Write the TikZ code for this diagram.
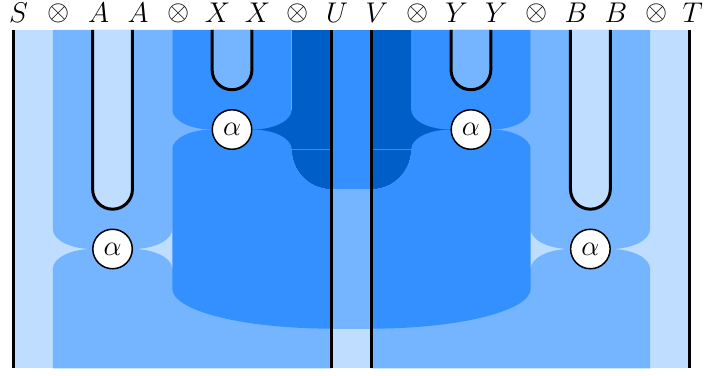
\RequirePackage{fix-cm}
\documentclass[tikz,border=0pt]{standalone}
\definecolor{cA}{RGB}{191,222,255}
\definecolor{cB}{RGB}{117,181,255}
\definecolor{cC}{RGB}{53,144,255}
\definecolor{cD}{RGB}{0,94,200}
\tikzset{
  wire/.style={line width=3pt},
  alphanode/.style={circle,draw=black,fill=white,line width=1.5pt,minimum size=39.5pt,inner sep=0pt},
  lab/.style={anchor=base,inner sep=0pt},
  tens/.style={anchor=center,inner sep=0pt}
}
\newcommand{\halfregions}{%
  \fill[cB] (1,0) -- (1,-5) arc[start angle=180,end angle=270,x radius=1,y radius=0.5]
     -- (3,-5.5) arc[start angle=270,end angle=360,x radius=1,y radius=0.5] -- (4,0) -- cycle;
  \fill[cB] (1,-8.5) -- (1,-6) arc[start angle=180,end angle=90,x radius=1,y radius=0.5]
     -- (3,-5.5) arc[start angle=90,end angle=0,x radius=1,y radius=0.5] -- (8,-6) -- (8,-8.5) -- cycle;
  \fill[cA] (2,0) -- (2,-4) arc[start angle=180,end angle=360,radius=0.5] -- (3,0) -- cycle;
  \fill[cB] (4,-2) rectangle (5.5,-3);
  \fill[cD] (5.5,-2) rectangle (8,-3);
  \fill[cD] (7,0) rectangle (8,-3);
  \fill[cD] (7,-3) arc[start angle=180,end angle=270,radius=1] -- (8,-3) -- cycle;
  \fill[cC] (4,0) -- (4,-2) arc[start angle=180,end angle=270,x radius=1,y radius=0.5]
     -- (6,-2.5) arc[start angle=270,end angle=360,x radius=1,y radius=0.5] -- (7,0) -- cycle;
  \fill[cB] (5,0) -- (5,-1) arc[start angle=180,end angle=360,radius=0.5] -- (6,0) -- cycle;
  \fill[cC] (4,-3) arc[start angle=180,end angle=90,x radius=1,y radius=0.5]
     -- (6,-2.5) arc[start angle=90,end angle=0,x radius=1,y radius=0.5]
     arc[start angle=180,end angle=270,radius=1] -- (8,-7.5)
     arc[start angle=270,end angle=180,x radius=4,y radius=1] -- cycle;
}
\begin{document}
\begin{tikzpicture}[x=39.82pt,y=39.82pt,font=\fontsize{28.5}{31}\selectfont]
\useasboundingbox (-0.3265,0.7534) rectangle (17.4539,-8.689);
% background
\fill[cA] (0,0) rectangle (17,-8.5);
\halfregions
\begin{scope}[shift={(17,0)},xscale=-1]
\halfregions
\end{scope}
\fill[cC] (8,0) rectangle (9,-4);
\fill[cB] (8,-4) rectangle (9,-7.5);
% wire ends
\foreach \k in {0,2,3,5,6,8,9,11,12,14,15,17}{
  \coordinate (t\k) at (\k,0);
}
\coordinate (bS) at (0,-8.5);
\coordinate (bU) at (8,-8.5);
\coordinate (bV) at (9,-8.5);
\coordinate (bT) at (17,-8.5);
% straight wires
\draw[wire] (t0) -- (bS);
\draw[wire] (t8) -- (bU);
\draw[wire] (t9) -- (bV);
\draw[wire] (t17) -- (bT);
% cups
\draw[wire] (t2) -- ++(0,-4) arc[start angle=180,end angle=360,radius=0.5] -- (t3);
\draw[wire] (t5) -- ++(0,-1) arc[start angle=180,end angle=360,radius=0.5] -- (t6);
\draw[wire] (t11) -- ++(0,-1) arc[start angle=180,end angle=360,radius=0.5] -- (t12);
\draw[wire] (t14) -- ++(0,-4) arc[start angle=180,end angle=360,radius=0.5] -- (t15);
% alpha nodes
\node[alphanode] (al1) at (2.5,-5.5) {$\alpha$};
\node[alphanode] (al2) at (5.5,-2.5) {$\alpha$};
\node[alphanode] (al3) at (11.5,-2.5) {$\alpha$};
\node[alphanode] (al4) at (14.5,-5.5) {$\alpha$};
% labels
\node[lab] (l0) at (0.14,0.188) {$S$};
\node[tens] (l1) at (1.15,0.405) {$\otimes$};
\node[lab] (l2) at (2.15,0.188) {$A$};
\node[lab] (l3) at (3.14,0.188) {$A$};
\node[tens] (l4) at (4.15,0.405) {$\otimes$};
\node[lab] (l5) at (5.14,0.188) {$X$};
\node[lab] (l6) at (6.14,0.188) {$X$};
\node[tens] (l7) at (7.15,0.405) {$\otimes$};
\node[lab] (l8) at (8.14,0.188) {$U$};
\node[lab] (l9) at (9.14,0.188) {$V$};
\node[tens] (l10) at (10.15,0.405) {$\otimes$};
\node[lab] (l11) at (11.14,0.188) {$Y$};
\node[lab] (l12) at (12.14,0.188) {$Y$};
\node[tens] (l13) at (13.15,0.405) {$\otimes$};
\node[lab] (l14) at (14.14,0.188) {$B$};
\node[lab] (l15) at (15.14,0.188) {$B$};
\node[tens] (l16) at (16.15,0.405) {$\otimes$};
\node[lab] (l17) at (17.07,0.188) {$T$};
\end{tikzpicture}
\end{document}
